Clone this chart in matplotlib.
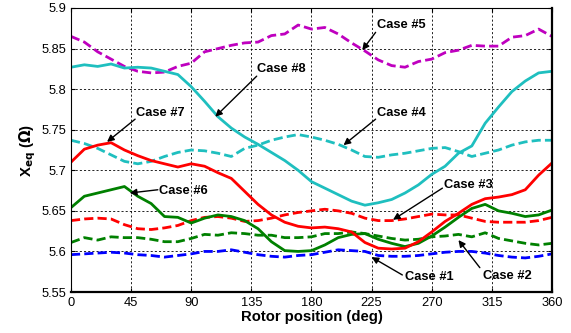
import matplotlib
matplotlib.use("Agg")
import matplotlib.pyplot as plt

# rotor position, 10 deg steps
angle = list(range(0, 361, 10))

case1 = [5.596, 5.597, 5.598, 5.599, 5.598, 5.596, 5.595, 5.593, 5.595, 5.597,
         5.600, 5.600, 5.602, 5.599, 5.596, 5.594, 5.593, 5.595, 5.596, 5.599,
         5.602, 5.601, 5.600, 5.595, 5.594, 5.594, 5.595, 5.597, 5.599, 5.600,
         5.600, 5.598, 5.595, 5.593, 5.592, 5.594, 5.597]
case2 = [5.611, 5.617, 5.614, 5.618, 5.617, 5.617, 5.615, 5.612, 5.612, 5.616,
         5.621, 5.620, 5.623, 5.622, 5.620, 5.620, 5.617, 5.617, 5.618, 5.622,
         5.622, 5.624, 5.622, 5.619, 5.616, 5.614, 5.615, 5.618, 5.619, 5.621,
         5.618, 5.623, 5.616, 5.613, 5.610, 5.608, 5.610]
case3 = [5.638, 5.640, 5.641, 5.640, 5.633, 5.628, 5.627, 5.629, 5.632, 5.638,
         5.642, 5.643, 5.641, 5.637, 5.638, 5.641, 5.645, 5.648, 5.650, 5.652,
         5.650, 5.647, 5.641, 5.638, 5.638, 5.640, 5.643, 5.646, 5.645, 5.645,
         5.641, 5.637, 5.636, 5.636, 5.636, 5.638, 5.642]
case4 = [5.737, 5.733, 5.727, 5.719, 5.711, 5.708, 5.711, 5.717, 5.722, 5.725,
         5.724, 5.721, 5.717, 5.727, 5.731, 5.737, 5.741, 5.744, 5.741, 5.737,
         5.732, 5.725, 5.717, 5.716, 5.719, 5.721, 5.724, 5.727, 5.728, 5.723,
         5.717, 5.721, 5.725, 5.731, 5.735, 5.737, 5.737]
case5 = [5.865, 5.858, 5.846, 5.837, 5.828, 5.822, 5.820, 5.821, 5.828, 5.832,
         5.846, 5.850, 5.854, 5.857, 5.858, 5.866, 5.868, 5.879, 5.874, 5.876,
         5.868, 5.857, 5.847, 5.836, 5.829, 5.827, 5.834, 5.837, 5.845, 5.848,
         5.854, 5.853, 5.853, 5.864, 5.866, 5.874, 5.865]
case6 = [5.654, 5.668, 5.672, 5.676, 5.680, 5.668, 5.659, 5.643, 5.642, 5.635,
         5.641, 5.645, 5.643, 5.638, 5.628, 5.612, 5.601, 5.600, 5.601, 5.608,
         5.617, 5.621, 5.622, 5.615, 5.610, 5.606, 5.610, 5.619, 5.630, 5.642,
         5.653, 5.658, 5.650, 5.647, 5.643, 5.645, 5.651]
case7 = [5.710, 5.726, 5.731, 5.734, 5.725, 5.718, 5.712, 5.708, 5.704, 5.708,
         5.705, 5.697, 5.690, 5.674, 5.658, 5.645, 5.636, 5.631, 5.629, 5.630,
         5.628, 5.624, 5.611, 5.604, 5.603, 5.604, 5.612, 5.624, 5.637, 5.647,
         5.658, 5.665, 5.667, 5.670, 5.676, 5.694, 5.709]
case8 = [5.827, 5.830, 5.828, 5.831, 5.826, 5.827, 5.826, 5.822, 5.818, 5.803,
         5.785, 5.766, 5.752, 5.741, 5.732, 5.722, 5.712, 5.700, 5.686, 5.678,
         5.670, 5.662, 5.657, 5.660, 5.664, 5.672, 5.682, 5.695, 5.705, 5.721,
         5.730, 5.758, 5.778, 5.797, 5.810, 5.820, 5.822]

x_ticks = [0, 45, 90, 135, 180, 225, 270, 315, 360]
y_ticks = [5.55, 5.6, 5.65, 5.7, 5.75, 5.8, 5.85, 5.9]

# label, text left edge, arrow tail, arrow tip
notes = [
    ("Case #1", (250, 5.569), (248, 5.571), (225, 5.593)),
    ("Case #2", (308, 5.570), (306, 5.580), (290, 5.614)),
    ("Case #3", (279, 5.682), (278, 5.678), (241, 5.639)),
    ("Case #4", (229, 5.771), (228, 5.763), (204, 5.731)),
    ("Case #5", (229, 5.879), (228, 5.870), (218, 5.848)),
    ("Case #6", (66, 5.675), (65, 5.676), (44, 5.672)),
    ("Case #7", (49, 5.771), (48, 5.763), (27, 5.735)),
    ("Case #8", (139, 5.825), (139, 5.816), (108, 5.766)),
]

plt.rcParams['font.family'] = ['Liberation Sans', 'DejaVu Sans']

fig = plt.figure(figsize=(5.71, 3.33), dpi=100)
ax = fig.add_axes([0.1243, 0.1231, 0.8424, 0.8529])

dash = (0, (3.3, 1.5))
lw = 2.0
ax.plot(angle, case1, color='#0000FF', lw=lw, ls=dash)
ax.plot(angle, case2, color='#008000', lw=lw, ls=dash)
ax.plot(angle, case3, color='#FF0000', lw=lw, ls=dash)
ax.plot(angle, case4, color='#1FBFBF', lw=lw, ls=dash)
ax.plot(angle, case5, color='#BF00BF', lw=lw, ls=dash)
ax.plot(angle, case6, color='#008000', lw=lw)
ax.plot(angle, case7, color='#FF0000', lw=lw)
ax.plot(angle, case8, color='#1FBFBF', lw=lw)

for label, txt, tail, tip in notes:
    ax.text(txt[0], txt[1], label, fontsize=9.3, fontweight='bold',
            ha='left', va='center')
    ax.annotate('', xy=tip, xytext=tail,
                arrowprops=dict(arrowstyle='-|>', color='black', lw=1.0,
                                mutation_scale=10, shrinkA=0, shrinkB=0))

ax.set_xlim(0, 360)
ax.set_ylim(5.55, 5.9)
ax.set_xticks(x_ticks)
ax.set_yticks(y_ticks)
ax.set_yticklabels(['5.55', '5.6', '5.65', '5.7', '5.75', '5.8', '5.85', '5.9'])
ax.tick_params(direction='in', top=True, right=True, labelsize=9.3, length=3)
ax.grid(True, color='black', ls=(0, (2.5, 2.5)), lw=0.6)
for s in ax.spines.values():
    s.set_linewidth(0.8)
ax.spines['right'].set_linewidth(1.6)
ax.spines['bottom'].set_linewidth(1.6)

ax.set_xlabel('Rotor position (deg)', fontsize=10.7, fontweight='bold', labelpad=1)
ax.set_ylabel(r'X$_{\mathbf{eq}}$ ($\mathbf{\Omega}$)', fontsize=10.7, fontweight='bold', labelpad=2)

fig.savefig('out.png', dpi=100)
